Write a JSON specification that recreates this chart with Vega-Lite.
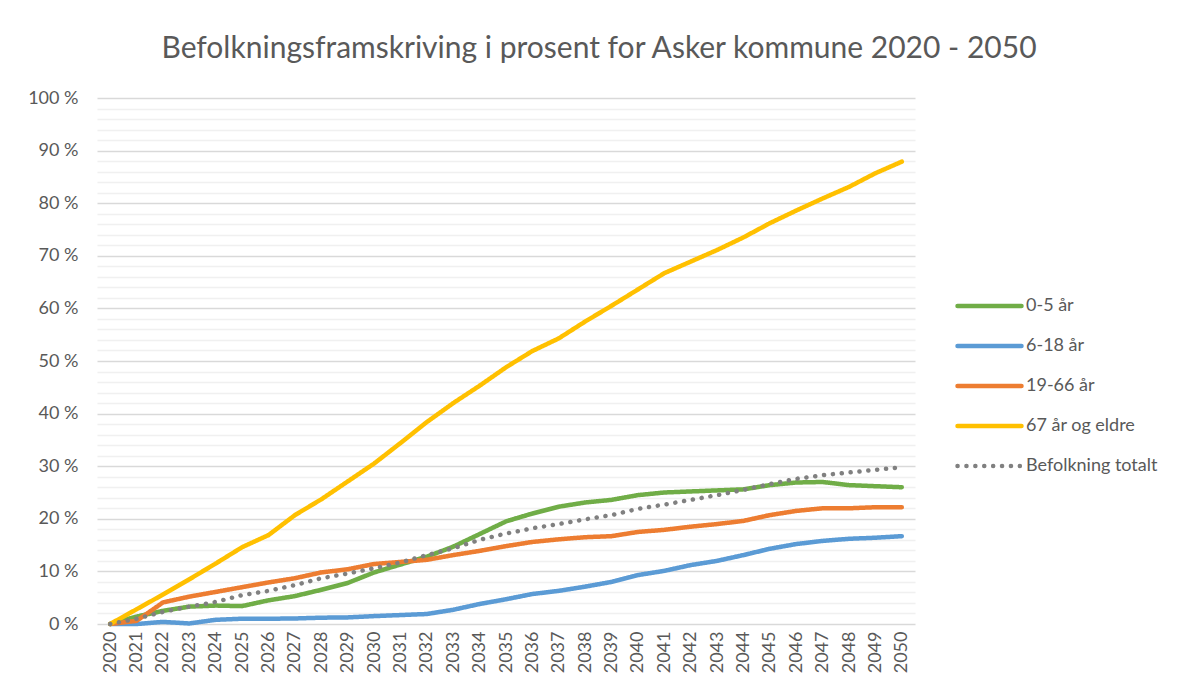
{
  "$schema": "https://vega.github.io/schema/vega-lite/v6.json",
  "autosize": {"type": "none"},
  "width": 818,
  "height": 526,
  "padding": {"left": 97, "top": 98, "right": 269, "bottom": 67},
  "background": "white",
  "config": {
    "font": "Lato",
    "view": {"stroke": null},
    "axis": {"labelColor": "#595959", "labelFont": "Lato", "labelFontSize": 18, "domain": false, "ticks": false}
  },
  "title": {
    "text": "Befolkningsframskriving i prosent for Asker kommune 2020 - 2050",
    "fontSize": 30,
    "fontWeight": "normal",
    "color": "#595959",
    "font": "Lato",
    "anchor": "middle",
    "frame": "group",
    "dx": 93,
    "baseline": "alphabetic",
    "offset": 1
  },
  "data": {
    "values": [
      {"year": "2020", "a": 0, "b": 0, "c": 0, "d": 0, "e": 0},
      {"year": "2021", "a": 1.4, "b": 0.0, "c": 0.6, "d": 2.8, "e": 1.0},
      {"year": "2022", "a": 2.5, "b": 0.4, "c": 4.1, "d": 5.6, "e": 2.3},
      {"year": "2023", "a": 3.3, "b": 0.1, "c": 5.2, "d": 8.5, "e": 3.3},
      {"year": "2024", "a": 3.5, "b": 0.8, "c": 6.1, "d": 11.5, "e": 4.2},
      {"year": "2025", "a": 3.4, "b": 1.0, "c": 7.0, "d": 14.6, "e": 5.5},
      {"year": "2026", "a": 4.5, "b": 1.0, "c": 7.9, "d": 16.9, "e": 6.3},
      {"year": "2027", "a": 5.3, "b": 1.05, "c": 8.7, "d": 20.7, "e": 7.4},
      {"year": "2028", "a": 6.5, "b": 1.2, "c": 9.8, "d": 23.7, "e": 8.7},
      {"year": "2029", "a": 7.8, "b": 1.25, "c": 10.4, "d": 27.1, "e": 9.6},
      {"year": "2030", "a": 9.8, "b": 1.5, "c": 11.4, "d": 30.5, "e": 10.6},
      {"year": "2031", "a": 11.3, "b": 1.7, "c": 11.8, "d": 34.4, "e": 11.7},
      {"year": "2032", "a": 12.8, "b": 1.9, "c": 12.2, "d": 38.4, "e": 13.1},
      {"year": "2033", "a": 14.7, "b": 2.7, "c": 13.1, "d": 42.0, "e": 14.4},
      {"year": "2034", "a": 17.1, "b": 3.8, "c": 13.9, "d": 45.3, "e": 16.0},
      {"year": "2035", "a": 19.5, "b": 4.7, "c": 14.8, "d": 48.8, "e": 17.2},
      {"year": "2036", "a": 21.0, "b": 5.7, "c": 15.6, "d": 51.9, "e": 18.2},
      {"year": "2037", "a": 22.3, "b": 6.3, "c": 16.1, "d": 54.3, "e": 19.0},
      {"year": "2038", "a": 23.1, "b": 7.1, "c": 16.5, "d": 57.5, "e": 19.9},
      {"year": "2039", "a": 23.6, "b": 8.0, "c": 16.7, "d": 60.5, "e": 20.7},
      {"year": "2040", "a": 24.5, "b": 9.3, "c": 17.5, "d": 63.6, "e": 21.9},
      {"year": "2041", "a": 25.0, "b": 10.1, "c": 17.9, "d": 66.7, "e": 22.7},
      {"year": "2042", "a": 25.2, "b": 11.2, "c": 18.5, "d": 68.9, "e": 23.6},
      {"year": "2043", "a": 25.4, "b": 12.0, "c": 19.0, "d": 71.1, "e": 24.5},
      {"year": "2044", "a": 25.6, "b": 13.1, "c": 19.6, "d": 73.5, "e": 25.5},
      {"year": "2045", "a": 26.4, "b": 14.3, "c": 20.7, "d": 76.2, "e": 26.6},
      {"year": "2046", "a": 26.9, "b": 15.2, "c": 21.5, "d": 78.6, "e": 27.6},
      {"year": "2047", "a": 27.0, "b": 15.8, "c": 22.0, "d": 80.9, "e": 28.3},
      {"year": "2048", "a": 26.4, "b": 16.2, "c": 22.0, "d": 83.1, "e": 28.8},
      {"year": "2049", "a": 26.2, "b": 16.4, "c": 22.2, "d": 85.7, "e": 29.3},
      {"year": "2050", "a": 26.0, "b": 16.7, "c": 22.2, "d": 87.9, "e": 29.8}
    ]
  },
  "transform": [
    {"fold": ["a", "b", "c", "d", "e"], "as": ["key", "value"]},
    {"lookup": "key", "from": {"data": {"values": [
      {"key": "a", "serie": "0-5 år"},
      {"key": "b", "serie": "6-18 år"},
      {"key": "c", "serie": "19-66 år"},
      {"key": "d", "serie": "67 år og eldre"},
      {"key": "e", "serie": "Befolkning totalt"}
    ]}, "key": "key", "fields": ["serie"]}}
  ],
  "mark": {"type": "line", "strokeCap": "round", "strokeJoin": "round"},
  "encoding": {
    "x": {
      "field": "year",
      "type": "ordinal",
      "scale": {"type": "point", "padding": 0.5},
      "axis": {"title": null, "labelAngle": 270, "labelPadding": 7, "grid": false}
    },
    "y": {
      "field": "value",
      "type": "quantitative",
      "scale": {"domain": [0, 100], "nice": false},
      "axis": {
        "title": null,
        "values": [0, 2, 4, 6, 8, 10, 12, 14, 16, 18, 20, 22, 24, 26, 28, 30, 32, 34, 36, 38, 40, 42, 44, 46, 48, 50, 52, 54, 56, 58, 60, 62, 64, 66, 68, 70, 72, 74, 76, 78, 80, 82, 84, 86, 88, 90, 92, 94, 96, 98, 100],
        "labelExpr": "datum.value % 10 === 0 ? datum.value + ' %' : ''",
        "labelPadding": 19,
        "grid": true,
        "gridColor": {"condition": {"test": "datum.value % 10 === 0", "value": "#d9d9d9"}, "value": "#f0f0f0"},
        "gridWidth": 1.5
      }
    },
    "color": {
      "field": "serie",
      "type": "nominal",
      "scale": {
        "domain": ["0-5 år", "6-18 år", "19-66 år", "67 år og eldre", "Befolkning totalt"],
        "range": ["#70AD47", "#5B9BD5", "#ED7D31", "#FFC000", "#808080"]
      },
      "legend": {
        "title": null,
        "orient": "none",
        "legendX": 858,
        "legendY": 197,
        "symbolType": "stroke",
        "symbolSize": 4096,
        "symbolStrokeWidth": 4.5,
        "clipHeight": 22,
        "rowPadding": 18,
        "labelFontSize": 18,
        "labelColor": "#595959",
        "labelFont": "Lato",
        "labelOffset": 2,
        "encode": {"symbols": {"update": {"strokeCap": {"value": "round"}}}}
      }
    },
    "strokeDash": {
      "field": "serie",
      "type": "nominal",
      "scale": {
        "domain": ["0-5 år", "6-18 år", "19-66 år", "67 år og eldre", "Befolkning totalt"],
        "range": [[1, 0], [1, 0], [1, 0], [1, 0], [0.1, 8.8]]
      },
      "legend": null
    },
    "strokeWidth": {
      "field": "serie",
      "type": "nominal",
      "scale": {
        "domain": ["0-5 år", "6-18 år", "19-66 år", "67 år og eldre", "Befolkning totalt"],
        "range": [4.5, 4.5, 4.5, 4.5, 4]
      },
      "legend": null
    },
    "order": {"field": "year"}
  }
}
